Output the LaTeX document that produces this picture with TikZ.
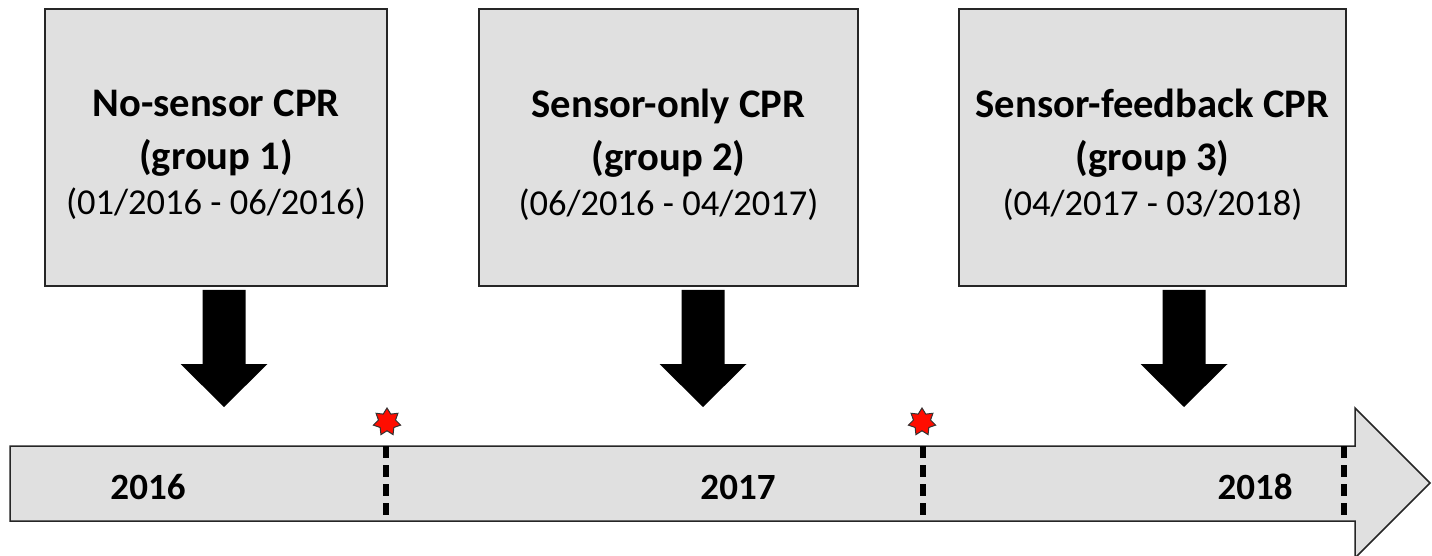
\documentclass[tikz,border=0pt]{standalone}
\usepackage{fontspec}
\setmainfont{Carlito}
\usetikzlibrary{shapes.geometric, positioning}

\newcommand\datefont{\fontsize{18.25}{22}\selectfont\mdseries}

\tikzset{
  period/.style={draw=black!85, fill=black!12, line width=0.75pt,
    minimum width=#1, minimum height=138.5pt, inner sep=0pt},
  caption/.style={align=center, inner sep=0pt,
    font=\fontsize{20.3}{26.5}\selectfont\bfseries},
  year/.style={font=\fontsize{18.5}{22}\selectfont\bfseries},
  burst/.style={star, star points=7, star point ratio=1.6, draw=black!80,
    fill=red!90!orange, line width=0.5pt, minimum size=14pt, inner sep=0pt},
  divider/.style={line width=2.6pt, dash pattern=on 6pt off 3.5pt},
  timeline/.style={draw=black!85, fill=black!12, line width=0.75pt}
}

\begin{document}
\begin{tikzpicture}[x=0.5pt,y=-0.5pt]
	\useasboundingbox (0,0) rectangle (1432,556);

	% time line
	\draw[timeline] (10,446) -- (1355,446) -- (1355,408) -- (1430,483)
		-- (1355,558) -- (1355,521) -- (10,521) -- cycle;
	\foreach \dx/\nm in {386/d1, 923/d2, 1344/d3}{
		\coordinate (\nm t) at (\dx,446);
		\coordinate (\nm b) at (\dx,521);
		\draw[divider] (\nm t) -- (\nm b);
	}
	\node[year] (y16) at (148,487) {2016};
	\node[year] (y17) at (738,487) {2017};
	\node[year] (y18) at (1255,487) {2018};

	\node[burst] (s1) at (387,422) {};
	\node[burst] (s2) at (922,422) {};

	% study periods
	\node[period=171pt] (g1) at (216,147.5) {};
	\node[period=189.5pt] (g2) at (668.5,147.5) {};
	\node[period=193.5pt] (g3) at (1152.5,147.5) {};
	\node[caption] (c1) at ([yshift=-3.5pt]g1.center)
		{No-sensor CPR\\(group 1)\\[-4pt]{\datefont (01/2016 - 06/2016)}};
	\node[caption] (c2) at ([yshift=-3.5pt]g2.center)
		{Sensor-only CPR\\(group 2)\\[-4pt]{\datefont (06/2016 - 04/2017)}};
	\node[caption] (c3) at ([yshift=-3.5pt]g3.center)
		{Sensor-feedback CPR\\(group 3)\\[-4pt]{\datefont (04/2017 - 03/2018)}};

	% block arrows down to the time line
	\foreach \ax in {224,703,1184}
		\fill (\ax-21.5,290) -- (\ax+21.5,290) -- (\ax+21.5,364) -- (\ax+43.5,364)
			-- (\ax,407) -- (\ax-43.5,364) -- (\ax-21.5,364) -- cycle;
\end{tikzpicture}
\end{document}
